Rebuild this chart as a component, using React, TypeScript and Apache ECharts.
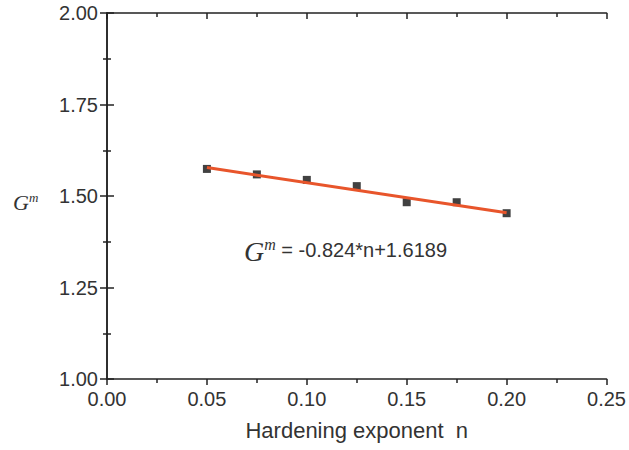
import React, { useEffect, useRef } from "react";
import * as echarts from "echarts";

const nValues = [0.05, 0.075, 0.1, 0.125, 0.15, 0.175, 0.2];
const gmValues = [1.574, 1.559, 1.544, 1.527, 1.483, 1.483, 1.453];
const fitSlope = -0.824;
const fitIntercept = 1.6189;
const fitRange = [0.05, 0.2];
const xTitle = "Hardening exponent  n";
const eqText = "= -0.824*n+1.6189";

export default function App() {
  const ref = useRef<HTMLDivElement>(null);
  useEffect(() => {
    const chart = echarts.init(ref.current!, undefined, { renderer: "svg" });
    const axisColor = "#222";
    const labelColor = "#333";
    const font = "Liberation Sans, Arial, sans-serif";
    const serif = "Liberation Serif, Times New Roman, serif";
    const fitData = fitRange.map((n) => [n, fitIntercept + fitSlope * n]);
    chart.setOption({
      animation: false,
      backgroundColor: "#fff",
      grid: { left: 107, right: 22, top: 13, bottom: 71 },
      xAxis: [
        {
          type: "value",
          min: 0,
          max: 0.25,
          interval: 0.05,
          position: "bottom",
          axisLine: { show: true, lineStyle: { color: axisColor, width: 1.5 } },
          axisTick: { show: true, inside: false, length: 6, lineStyle: { color: axisColor, width: 1.5 } },
          minorTick: { show: true, splitNumber: 2, length: 4, lineStyle: { color: axisColor, width: 1.5 } },
          splitLine: { show: false },
          axisLabel: {
            color: labelColor,
            fontSize: 20,
            fontFamily: font,
            margin: 10,
            formatter: (v: number) => v.toFixed(2),
          },
          name: xTitle,
          nameLocation: "middle",
          nameGap: 40,
          nameTextStyle: { color: labelColor, fontSize: 22, fontFamily: font },
        },
        {
          type: "value",
          min: 0,
          max: 0.25,
          interval: 0.05,
          position: "top",
          axisLine: { show: true, lineStyle: { color: axisColor, width: 1.5 } },
          axisTick: { show: true, inside: true, length: 6, lineStyle: { color: axisColor, width: 1.5 } },
          minorTick: { show: true, splitNumber: 2, length: 4, lineStyle: { color: axisColor, width: 1.5 } },
          splitLine: { show: false },
          axisLabel: { show: false },
        },
      ],
      yAxis: [
        {
          type: "value",
          min: 1,
          max: 2,
          interval: 0.25,
          position: "left",
          axisLine: { show: true, lineStyle: { color: axisColor, width: 1.5 } },
          axisTick: { show: true, inside: true, length: 7, lineStyle: { color: axisColor, width: 1.5 } },
          minorTick: { show: true, splitNumber: 2, length: 4, lineStyle: { color: axisColor, width: 1.5 } },
          splitLine: { show: false },
          axisLabel: {
            color: labelColor,
            fontSize: 20,
            fontFamily: font,
            margin: 9,
            formatter: (v: number) => v.toFixed(2),
          },
        },
        {
          type: "value",
          min: 1,
          max: 2,
          interval: 0.25,
          position: "right",
          axisLine: { show: true, lineStyle: { color: axisColor, width: 1.5 } },
          axisTick: { show: true, inside: true, length: 7, lineStyle: { color: axisColor, width: 1.5 } },
          minorTick: { show: true, splitNumber: 2, length: 4, lineStyle: { color: axisColor, width: 1.5 } },
          splitLine: { show: false },
          axisLabel: { show: false },
        },
      ],
      series: [
        {
          type: "line",
          data: fitData,
          showSymbol: false,
          symbol: "none",
          lineStyle: { color: "#E8552B", width: 3 },
          z: 3,
        },
        {
          type: "scatter",
          data: nValues.map((n, i) => [n, gmValues[i]]),
          symbol: "rect",
          symbolSize: 8,
          itemStyle: { color: "#111" },
          z: 2,
        },
      ],
      graphic: [
        {
          type: "text",
          left: 13,
          top: 191,
          style: {
            text: "{g|G}{m|m}",
            rich: {
              g: { fontFamily: serif, fontStyle: "italic", fontSize: 22, fill: labelColor },
              m: { fontFamily: serif, fontStyle: "italic", fontSize: 13, fill: labelColor, padding: [0, 0, 10, 0] },
            },
          },
        },
        {
          type: "text",
          left: 244,
          top: 236,
          style: {
            text: "{g|G}{m|m}{e| " + eqText + "}",
            rich: {
              g: { fontFamily: serif, fontStyle: "italic", fontSize: 28, fill: labelColor },
              m: { fontFamily: serif, fontStyle: "italic", fontSize: 16, fill: labelColor, padding: [0, 0, 14, 0] },
              e: { fontFamily: font, fontSize: 20, fill: labelColor, padding: [0, 0, 2, 0] },
            },
          },
        },
      ],
    });
    return () => chart.dispose();
  }, []);
  return <div ref={ref} style={{ width: 629, height: 450, position: "absolute", left: 0, top: 0 }} />;
}
